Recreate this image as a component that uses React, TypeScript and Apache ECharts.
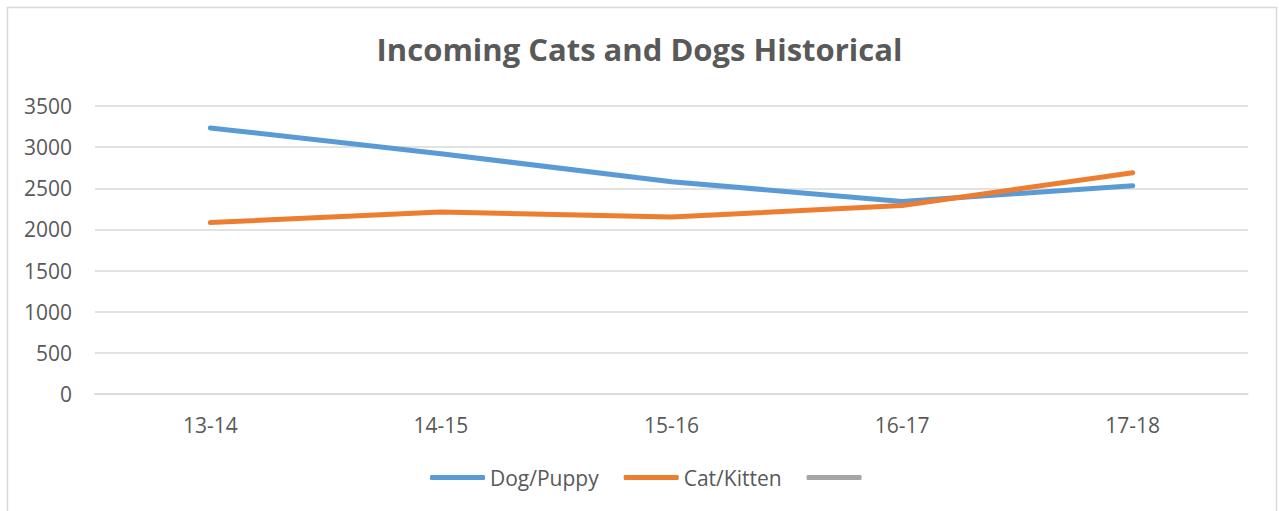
import React, { useEffect, useRef } from "react";
import * as echarts from "echarts";

const categories = ["13-14", "14-15", "15-16", "16-17", "17-18"];
const dogValues = [3233, 2920, 2580, 2340, 2530];
const catValues = [2083, 2212, 2150, 2292, 2688];
const emptyValues: number[] = [];
const seriesNames = ["Dog/Puppy", "Cat/Kitten", "Series3"];
const yTicks = { min: 0, max: 3500, interval: 500 };

const FONT = "'Open Sans', 'DejaVu Sans', sans-serif";
const TEXT = "#595959";

export default function App() {
  const ref = useRef<HTMLDivElement>(null);
  useEffect(() => {
    document.body.style.margin = "0";
    const chart = echarts.init(ref.current!, null, { renderer: "svg" });
    chart.setOption({
      animation: false,
      backgroundColor: "#ffffff",
      title: {
        text: "Incoming Cats and Dogs Historical",
        left: "center",
        top: 28,
        textStyle: { fontFamily: FONT, fontSize: 31, fontWeight: "bold", color: TEXT },
      },
      graphic: [
        {
          type: "rect",
          shape: { x: 7.5, y: 7.5, width: 1269, height: 520 },
          style: { fill: "none", stroke: "#d9d9d9", lineWidth: 1.5 },
          silent: true,
        },
      ],
      grid: { left: 95, right: 31, top: 106, bottom: 117, containLabel: false },
      legend: {
        bottom: 18,
        left: 425,
        icon: "roundRect",
        itemWidth: 55,
        itemHeight: 5,
        itemGap: 25,
        formatter: (name: string) => (name === "Series3" ? "" : name),
        textStyle: { fontFamily: FONT, fontSize: 21, color: TEXT },
        data: seriesNames,
      },
      xAxis: {
        type: "category",
        data: categories,
        boundaryGap: true,
        axisLine: { lineStyle: { color: "#d9d9d9", width: 1.5 } },
        axisTick: { show: false },
        axisLabel: { fontFamily: FONT, fontSize: 21, color: TEXT, margin: 20 },
      },
      yAxis: {
        type: "value",
        min: yTicks.min,
        max: yTicks.max,
        interval: yTicks.interval,
        axisLine: { show: false },
        axisTick: { show: false },
        splitLine: { lineStyle: { color: "#d9d9d9", width: 1.5 } },
        axisLabel: {
          fontFamily: FONT,
          fontSize: 21,
          color: TEXT,
          margin: 23,
          formatter: (v: number) => String(v),
        },
      },
      series: [
        {
          name: seriesNames[0],
          type: "line",
          data: dogValues,
          symbol: "none",
          lineStyle: { color: "#5b9bd5", width: 5, cap: "round", join: "round" },
          itemStyle: { color: "#5b9bd5" },
        },
        {
          name: seriesNames[1],
          type: "line",
          data: catValues,
          symbol: "none",
          lineStyle: { color: "#ed7d31", width: 5, cap: "round", join: "round" },
          itemStyle: { color: "#ed7d31" },
        },
        {
          name: seriesNames[2],
          type: "line",
          data: emptyValues,
          symbol: "none",
          lineStyle: { color: "#a5a5a5", width: 5 },
          itemStyle: { color: "#a5a5a5" },
        },
      ],
    });
    return () => chart.dispose();
  }, []);
  return (
    <div
      ref={ref}
      style={{ position: "absolute", left: 0, top: 0, width: 1279, height: 511 }}
    />
  );
}
